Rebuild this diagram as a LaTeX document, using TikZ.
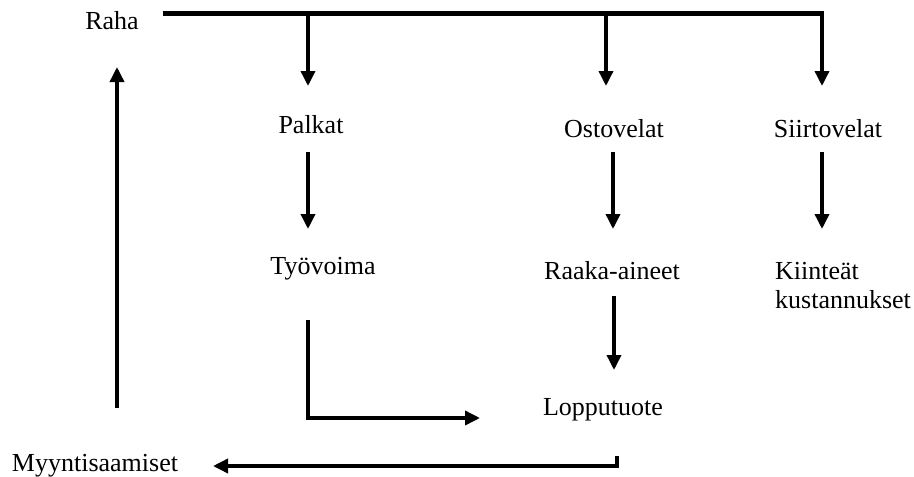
\documentclass[tikz,border=0pt]{standalone}
\usepackage{fontspec}
\setmainfont{Liberation Serif}
\usetikzlibrary{arrows.meta}
\begin{document}
\begin{tikzpicture}[x=1pt,y=-1pt,
  lbl/.style={anchor=base,inner sep=0pt,font=\fontsize{26}{29}\selectfont},
  arr/.style={line width=3.5pt,-{Triangle[length=15pt,width=14pt]}},
  bus/.style={line width=4.5pt}]
\useasboundingbox (0,0) rectangle (914,477);
% texts
\node[lbl] (raha) at (112,29) {Raha};
\node[lbl] (palkat) at (311,133) {Palkat};
\node[lbl] (osto) at (614,137) {Ostovelat};
\node[lbl] (siirto) at (828,137) {Siirtovelat};
\node[lbl] (tyo) at (323,274) {Työvoima};
\node[lbl] (raaka) at (612,279) {Raaka-aineet};
\node[lbl,anchor=base west,align=left] (kiint) at (775,308) {Kiinteät\\kustannukset};
\node[lbl] (loppu) at (603,415) {Lopputuote};
\node[lbl] (myynti) at (95,471) {Myyntisaamiset};
% coordinates
\coordinate (t0) at (163,13.5);
\coordinate (t1) at (824,13.5);
\coordinate (b1) at (308,13.5);
\coordinate (b2) at (606,13.5);
\coordinate (b3) at (822,13.5);
\coordinate (p1) at (308,86);
\coordinate (p2) at (606,86);
\coordinate (p3) at (822,86);
\coordinate (q1s) at (308,152);
\coordinate (q1e) at (308,229);
\coordinate (q2s) at (613,152);
\coordinate (q2e) at (613,229);
\coordinate (q3s) at (822,152);
\coordinate (q3e) at (822,229);
\coordinate (r2s) at (614,296);
\coordinate (r2e) at (614,370);
\coordinate (ls) at (308,320);
\coordinate (lc) at (308,418);
\coordinate (le) at (480,418);
\coordinate (ms) at (617,456);
\coordinate (mc) at (617,466);
\coordinate (me) at (213,466);
\coordinate (us) at (117,408);
\coordinate (ue) at (117,67);
% connectors
\draw[bus] (t0) -- (t1);
\draw[arr] (b1) -- (p1);
\draw[arr] (b2) -- (p2);
\draw[arr] (b3) -- (p3);
\draw[arr] (q1s) -- (q1e);
\draw[arr] (q2s) -- (q2e);
\draw[arr] (q3s) -- (q3e);
\draw[arr] (r2s) -- (r2e);
\draw[arr] (ls) -- (lc) -- (le);
\draw[arr] (ms) -- (mc) -- (me);
\draw[arr] (us) -- (ue);
\end{tikzpicture}
\end{document}
